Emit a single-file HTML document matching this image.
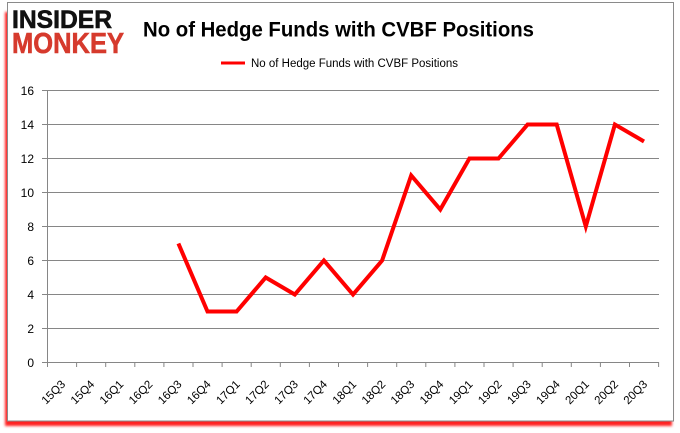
<!DOCTYPE html>
<html><head><meta charset="utf-8"><style>
html,body{margin:0;padding:0;background:#fff;}
svg{display:block;}
text{font-family:"Liberation Sans",sans-serif;}
</style></head><body>
<svg width="680" height="433" viewBox="0 0 680 433" xmlns="http://www.w3.org/2000/svg">
<defs><filter id="b" x="-5%" y="-5%" width="110%" height="110%"><feGaussianBlur stdDeviation="1.3"/></filter></defs>
<rect x="0" y="0" width="680" height="433" fill="#fff"/>
<rect x="5" y="12" width="667" height="414" fill="#ff2020" filter="url(#b)"/>
<rect x="7.5" y="2.5" width="666" height="418.5" fill="#fff" stroke="#8a8a8a" stroke-width="1"/>
<!-- logo -->
<text x="12" y="28" font-size="25" font-weight="bold" fill="#111" stroke="#111" stroke-width="0.6" textLength="100" lengthAdjust="spacingAndGlyphs">INSIDER</text>
<text x="12" y="53" font-size="29" font-weight="bold" fill="#d63a2d" stroke="#d63a2d" stroke-width="0.6" textLength="112" lengthAdjust="spacingAndGlyphs">MONKEY</text>
<!-- title -->
<text x="143" y="36.5" font-size="21" font-weight="bold" fill="#000" textLength="391" lengthAdjust="spacingAndGlyphs">No of Hedge Funds with CVBF Positions</text>
<!-- legend -->
<line x1="221" y1="63" x2="245" y2="63" stroke="#ff0000" stroke-width="3"/>
<text x="251" y="67" font-size="11.5" fill="#000" textLength="207" lengthAdjust="spacingAndGlyphs">No of Hedge Funds with CVBF Positions</text>
<!-- grid -->
<g stroke="#868686" stroke-width="1">
<line x1="42" y1="90.5" x2="659" y2="90.5"/>
<line x1="42" y1="124.5" x2="659" y2="124.5"/>
<line x1="42" y1="158.5" x2="659" y2="158.5"/>
<line x1="42" y1="192.5" x2="659" y2="192.5"/>
<line x1="42" y1="226.5" x2="659" y2="226.5"/>
<line x1="42" y1="260.5" x2="659" y2="260.5"/>
<line x1="42" y1="294.5" x2="659" y2="294.5"/>
<line x1="42" y1="328.5" x2="659" y2="328.5"/>
<line x1="42" y1="362.5" x2="659" y2="362.5"/>
<line x1="47.5" y1="90.5" x2="47.5" y2="362.5"/>
</g>
<g font-size="12" fill="#000" text-anchor="end">
<text x="34" y="95">16</text>
<text x="34" y="129">14</text>
<text x="34" y="163">12</text>
<text x="34" y="197">10</text>
<text x="34" y="231">8</text>
<text x="34" y="265">6</text>
<text x="34" y="299">4</text>
<text x="34" y="333">2</text>
<text x="34" y="367">0</text>
</g>
<g stroke="#868686" stroke-width="1">
<line x1="47.5" y1="362" x2="47.5" y2="367"/>
<line x1="76.6" y1="362" x2="76.6" y2="367"/>
<line x1="105.7" y1="362" x2="105.7" y2="367"/>
<line x1="134.8" y1="362" x2="134.8" y2="367"/>
<line x1="163.9" y1="362" x2="163.9" y2="367"/>
<line x1="193" y1="362" x2="193" y2="367"/>
<line x1="222.1" y1="362" x2="222.1" y2="367"/>
<line x1="251.2" y1="362" x2="251.2" y2="367"/>
<line x1="280.3" y1="362" x2="280.3" y2="367"/>
<line x1="309.4" y1="362" x2="309.4" y2="367"/>
<line x1="338.5" y1="362" x2="338.5" y2="367"/>
<line x1="367.6" y1="362" x2="367.6" y2="367"/>
<line x1="396.7" y1="362" x2="396.7" y2="367"/>
<line x1="425.8" y1="362" x2="425.8" y2="367"/>
<line x1="454.9" y1="362" x2="454.9" y2="367"/>
<line x1="484" y1="362" x2="484" y2="367"/>
<line x1="513.1" y1="362" x2="513.1" y2="367"/>
<line x1="542.2" y1="362" x2="542.2" y2="367"/>
<line x1="571.3" y1="362" x2="571.3" y2="367"/>
<line x1="600.4" y1="362" x2="600.4" y2="367"/>
<line x1="629.5" y1="362" x2="629.5" y2="367"/>
<line x1="658.6" y1="362" x2="658.6" y2="367"/>
</g>
<g font-size="11.5" fill="#000" text-anchor="end">
<text transform="translate(66,385) rotate(-45)">15Q3</text>
<text transform="translate(95.1,385) rotate(-45)">15Q4</text>
<text transform="translate(124.2,385) rotate(-45)">16Q1</text>
<text transform="translate(153.3,385) rotate(-45)">16Q2</text>
<text transform="translate(182.4,385) rotate(-45)">16Q3</text>
<text transform="translate(211.5,385) rotate(-45)">16Q4</text>
<text transform="translate(240.6,385) rotate(-45)">17Q1</text>
<text transform="translate(269.7,385) rotate(-45)">17Q2</text>
<text transform="translate(298.8,385) rotate(-45)">17Q3</text>
<text transform="translate(327.9,385) rotate(-45)">17Q4</text>
<text transform="translate(357,385) rotate(-45)">18Q1</text>
<text transform="translate(386.1,385) rotate(-45)">18Q2</text>
<text transform="translate(415.2,385) rotate(-45)">18Q3</text>
<text transform="translate(444.3,385) rotate(-45)">18Q4</text>
<text transform="translate(473.4,385) rotate(-45)">19Q1</text>
<text transform="translate(502.5,385) rotate(-45)">19Q2</text>
<text transform="translate(531.6,385) rotate(-45)">19Q3</text>
<text transform="translate(560.7,385) rotate(-45)">19Q4</text>
<text transform="translate(589.8,385) rotate(-45)">20Q1</text>
<text transform="translate(618.9,385) rotate(-45)">20Q2</text>
<text transform="translate(648,385) rotate(-45)">20Q3</text>
</g>
<polyline fill="none" stroke="#ff0000" stroke-width="4" stroke-linejoin="miter" stroke-linecap="butt"
points="178.4,243.5 207.5,311.5 236.6,311.5 265.7,277.5 294.8,294.5 323.9,260.5 353,294.5 382.1,260.5 411.2,175.5 440.3,209.5 469.4,158.5 498.5,158.5 527.6,124.5 556.7,124.5 585.8,226.5 614.9,124.5 644,141.5"/>
</svg>
</body></html>
